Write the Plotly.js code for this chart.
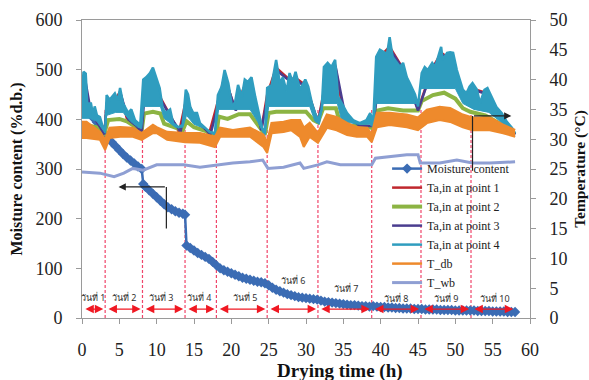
<!DOCTYPE html>
<html>
<head>
<meta charset="utf-8">
<script src="https://cdn.plot.ly/plotly-3.0.1.min.js"></script>
<style>html,body{margin:0;padding:0;background:#fff}#chart{width:589px;height:380px}</style>
</head>
<body>
<div id="chart"></div>
<script>
// ---------- data ----------
const xTicks = [0,5,10,15,20,25,30,35,40,45,50,55,60];
const yTicks = [0,100,200,300,400,500,600];
const y2Ticks = [0,5,10,15,20,25,30,35,40,45,50];

// Moisture content (%d.b.)
const mcTime = [0,0.5,1,1.5,2,2.5,3,3.5,4,4.5,5,5.5,6,6.5,7,7.5,8,8.2,8.5,9,9.5,10,10.5,11,11.5,12,12.5,13,13.5,13.8,14,14.5,15,15.5,16,16.5,17,17.5,18,18.5,19,19.5,20,20.5,21,21.5,22,22.5,23,23.5,24,24.5,25,25.5,26,26.5,27,27.5,28,28.5,29,29.5,30,30.5,31,31.5,32,32.5,33,33.5,34,34.5,35,35.5,36,36.5,37,37.5,38,38.5,39,39.5,40,40.5,41,41.5,42,42.5,43,43.5,44,44.5,45,45.5,46,46.5,47,47.5,48,48.5,49,49.5,50,50.5,51,51.5,52,52.5,53,53.5,54,54.5,55,55.5,56,56.5,57,57.5,58];
const mcValue = [440,425,413,403,394,383,372,363,354,346,338,330,323,317,311,305,300,270,264,257,250,243,236,229,223,219,215,212,210,208,146,141,136,131,127,123,119,113,106,100,96,93,90,87,84,81,79,77,75,73,72,70,66,61,57,54,51,48,46,44,42,41,40,39,38,37,35,33,32,31,30,29,28,27,26,26,25,24,24,23,24,23,22,22,21,21,20,20,19,19,19,18,18,18,17,17,17,17,16,16,16,16,15,15,15,15,15,15,14,14,14,14,13,13,13,13,12,12,12];

// Ta,in at point 4 (upper edge of the band)
const ta4Time = [0,0.2,0.5,0.7,1.2,1.5,1.7,2.0,2.4,2.8,3.1,3.3,3.7,4.4,4.8,5.1,5.5,6.2,6.6,7.1,7.8,8.2,8.6,9.1,9.5,9.9,10.4,10.8,11.2,11.8,12.2,12.9,13.5,13.9,14.2,14.5,14.9,15.4,15.8,16.5,17.1,17.8,18.2,18.7,19.1,19.6,20.1,20.5,20.9,21.4,21.8,22.2,22.7,23.2,23.6,24.1,24.5,24.8,25.4,26.0,26.5,26.9,27.4,27.8,28.2,28.6,29.2,29.9,30.3,30.8,31.2,31.6,32.1,32.4,32.9,33.4,33.9,34.3,34.8,35.5,36.3,37.2,38.1,38.6,39.0,39.4,39.9,40.6,40.8,41.2,41.6,42.2,42.6,43.0,43.5,43.9,44.6,45.0,45.5,45.9,46.3,46.9,47.3,47.7,48.1,48.3,48.9,49.3,49.7,50.2,50.6,51.0,51.5,51.9,52.3,52.9,53.3,53.9,54.3,54.9,55.5,56.2,56.9,57.6,58.0];
const ta4Value = [37,41.3,41,36,36,34,35.5,34,33.7,32,31.5,37.4,36.6,37.7,36.5,38.6,36,34.4,35,33.2,32.4,40,40.4,41.1,42,40.4,38.6,35.2,34.4,35,32.7,32,32.4,38.3,37.5,35.4,34.4,34.4,32.7,31.9,31.2,31,37.4,38.8,41.6,39.4,35.4,36.2,39.1,37.1,40,39.6,40.4,37.1,35,32,31,38.6,39.1,43.3,39.4,40.4,38,41.1,39.6,41.3,38.3,40,38.8,36,34.4,33.2,35,42.1,42.8,42.1,43.3,37.1,36,34.4,33.2,32.7,33.2,34.4,32.7,43.8,45,44.5,43.8,47.1,43.8,42.8,42.1,42.8,40.4,39.4,37.5,35.5,41.1,42.1,41.6,42.8,42.1,43.8,45.5,43.3,44.5,44.6,44.5,41.6,40,38.3,37.7,38.8,39.4,38.3,36,38.3,38.6,37.1,35.4,34.4,32.9,31.9,31];
// Ta,in at point 4 (lower edge of the band)
const ta4LowTime = [0,1.0,2.0,2.6,3.1,3.3,4.5,5.5,6.5,7.5,8.0,8.3,10.5,11.0,12.5,13.5,14.0,15.0,17.0,17.8,18.3,22.5,23.5,24.5,25.0,30.5,31.2,31.8,32.3,34.2,34.8,37.0,38.5,39.0,39.4,45.0,45.4,50.0,51.0,52.5,54.5,56.0,58.0];
const ta4LowValue = [33.5,33.5,33,32,31,34,34.5,34.5,33,32,31.8,35.5,35.5,33.5,32,32,34,32.5,31.5,30.5,35,35,33,30.5,35.5,35.5,33,32.5,36,36,33,32.5,32.5,32,36,36,38.5,38.5,36,35,34.5,33,30.5];

// Ta,in at point 1 / 2 / 3
const ta1Time = [0,0.3,1,2,3,3.3,4.4,5.1,6,7,8,8.3,9.5,10.5,11.8,13,14,15,17,18.2,19.1,20.5,21.8,22.7,24,24.8,26,27.8,28.6,30,31.6,32.9,33.9,35,37,39,40,41.2,43,45,46.9,48.1,49.3,51,52.3,54.3,56,58];
const ta1Value = [35.5,40.8,34.5,33,30.8,36,36.5,38,33.5,32.5,31.2,38.5,40.5,37,34,31.2,37,33.5,30.8,36.5,40.5,35,39,39.5,31.5,37.5,42,40,40.3,39,32.8,41.5,42.3,34.5,32.2,32.2,44,45.5,41.8,35,41.8,44.5,43.5,37.5,38.5,37.7,34,30.8];
const ta2Time = [0,1,2,3,3.5,5,6,7,8,8.3,9.5,10.5,11,13.5,14,15,17,18,18.3,19.5,21,22.5,23.5,24.5,25,26,28,30,31,31.6,32.3,34,34.5,36,38,39,39.5,41,43,45,45.5,47,48.5,50,51,52,54,56,58];
const ta2Value = [32.5,32.3,32,31,33.2,33.4,33,32.2,31.5,34.3,34.6,34.3,32.6,31.5,33,32,31.2,30.6,33.8,33.4,34.2,34.2,32.6,30.8,34.4,34.6,34.6,34.6,33.2,32.8,35.2,35.2,33,32.2,32.2,31.8,34.8,35.2,34.8,34.8,36.4,37.4,37.8,36.8,35.2,34.6,34,32.6,30.8];
const ta3Time = [0,0.4,1.2,2.2,3,3.3,4.5,5.2,6.2,7.2,8,8.4,9.6,10.6,12,13.2,14,15.2,17.2,18.3,19.2,20.6,21.9,22.8,24,24.9,26.1,27.9,28.7,30.1,31.6,33,34,35.2,37.2,39,40.1,41.3,43.1,45,47,48.2,49.4,51,52.4,54.4,56.1,58];
const ta3Value = [35,40.2,34.5,32.5,30.8,35.5,36.3,37.5,33.3,32.3,31.2,38,40,36.5,33.5,31.2,36.5,33.3,30.8,36,40,34.8,38.5,39,31.5,37.2,41.5,39.7,40,38.5,32.8,41,42,34.3,32.2,32.2,43.5,45,41.5,34.8,42,44.2,43.3,37.3,38.3,37.5,33.8,30.8];

// T_db (upper and lower edge of the band)
const tdbTime = [0,0.6,2.4,3.1,3.7,5.1,6.8,8.0,9.5,10.0,11.4,13.8,15.8,17.8,18.5,20.2,22.5,24.3,24.8,25.4,27,28,29.2,29.7,30.5,31.6,32.8,34.1,35.5,36.8,38.2,38.8,39.5,41.2,43.5,45,46.2,47.9,49.3,51,52.3,54.6,56.4,58];
const tdbUpper = [32.9,32.9,31.2,29.9,31.9,32,31.9,31,32.4,32,31.2,31,31,30.4,31.9,31.5,31.9,30.7,29.4,32.7,32.9,33.2,33.2,31.9,32.7,31,34.1,33.7,32.7,32,31.9,30.7,34.4,34.4,34.1,33.6,34.9,35.4,35.2,34.1,33.6,33.6,32.4,31.5];
const tdbLower = [30.2,30.2,29.9,28.2,30.2,30.4,30.4,29.9,31,31,29.9,29.5,29.4,28.7,30.4,30.4,30.4,28.7,27.7,31,31.2,31.5,30.4,28.7,30.4,29.4,31.9,31.5,30.7,30.4,30.4,29.5,32,32.4,32,31.5,32.7,33.2,32.9,32,31.5,31.5,31,30.4];

// T_wb
const twbTime = [0,2.4,4.3,5.6,6.8,8.2,10,13.6,15.8,18,20.2,22.5,24.2,24.9,27,29.2,29.7,31.6,32.8,34.6,36.8,38.8,39.3,41.2,43.5,45,45.3,47.9,50.2,52.3,54.6,58];
const twbValue = [24.5,24.3,23.7,24.3,25.1,24.8,25.7,25.7,25.3,25.7,26,26.2,26.5,25.1,25.3,26,25.1,25.7,26.2,25.7,25.7,25.7,26.8,27.1,27.4,27.4,26,26,26.5,26,26,26.2];

// Day annotations
const dayBounds = [0,3.1,8.1,13.8,18,24.8,31.6,38.8,45.4,52.1,58];
const dayLabels = ['วันที่ 1','วันที่ 2','วันที่ 3','วันที่ 4','วันที่ 5','วันที่ 6','วันที่ 7','วันที่ 8','วันที่ 9','วันที่ 10'];
const dayLabelX = [1.6,5.7,10.6,15.7,21.9,28.3,35.4,42.1,48.8,55.3];
const dayLabelY = [42,42,42,42,42,76,60,40,40,40];
const dayArrowY = 18;
const dayLineTop = 420;
// Pointer arrows
const mcPointer = {x: 11.3, yLow: 180, yHigh: 264, head: 4.9};
const tPointer = {x: 52.3, yLow: 24.7, yHigh: 33.9, head: 57.5};

// ---------- chart ----------
const serif = 'Liberation Serif, Times New Roman, serif';
const C = {mc:'#3b6cb4', t1:'#c0272d', t2:'#8cb443', t3:'#4a3d8f', t4:'#2f9dbf', db:'#ee8a2c', wb:'#8f9fd3'};

const traces = [
  {x: mcTime, y: mcValue, name: 'Moisture content', type: 'scatter', mode: 'lines+markers',
   line: {color: C.mc, width: 2.5}, marker: {symbol: 'diamond', size: 8, color: C.mc}, yaxis: 'y'},
  {x: ta1Time, y: ta1Value, name: 'Ta,in at point 1', mode: 'lines', line: {color: C.t1, width: 2.5}, yaxis: 'y2'},
  {x: ta2Time, y: ta2Value, name: 'Ta,in at point 2', mode: 'lines', line: {color: C.t2, width: 4}, yaxis: 'y2'},
  {x: ta3Time, y: ta3Value, name: 'Ta,in at point 3', mode: 'lines', line: {color: C.t3, width: 2.5}, yaxis: 'y2'},
  {x: ta4Time, y: ta4Value, name: 'Ta,in at point 4', mode: 'lines', line: {color: C.t4, width: 2.5}, yaxis: 'y2'},
  {x: ta4LowTime, y: ta4LowValue, name: 'Ta,in at point 4 band', showlegend: false, mode: 'lines',
   line: {color: C.t4, width: 1}, fill: 'tonexty', fillcolor: C.t4, yaxis: 'y2', hoverinfo: 'skip'},
  {x: tdbTime, y: tdbUpper, name: 'T_db', mode: 'lines', line: {color: C.db, width: 2.5}, yaxis: 'y2'},
  {x: tdbTime, y: tdbLower, name: 'T_db band', showlegend: false, mode: 'lines',
   line: {color: C.db, width: 2}, fill: 'tonexty', fillcolor: C.db, yaxis: 'y2', hoverinfo: 'skip'},
  {x: twbTime, y: twbValue, name: 'T_wb', mode: 'lines', line: {color: C.wb, width: 3}, yaxis: 'y2'}
];

const shapes = [];
for (let i = 1; i < dayBounds.length - 1; i++) {
  shapes.push({type: 'line', xref: 'x', yref: 'y', x0: dayBounds[i], x1: dayBounds[i], y0: 0, y1: dayLineTop,
    line: {color: '#f0456a', width: 1.2, dash: '3px,2px'}, layer: 'below'});
}
shapes.push({type: 'line', xref: 'x', yref: 'y', x0: mcPointer.x, x1: mcPointer.x, y0: mcPointer.yLow, y1: mcPointer.yHigh,
  line: {color: '#222', width: 1.2}});
shapes.push({type: 'line', xref: 'x', yref: 'y2', x0: tPointer.x, x1: tPointer.x, y0: tPointer.yLow, y1: tPointer.yHigh,
  line: {color: '#222', width: 1.2}});

const annotations = [];
for (let i = 0; i < dayLabels.length; i++) {
  annotations.push({xref: 'x', yref: 'y', x: dayLabelX[i], y: dayLabelY[i], text: dayLabels[i], showarrow: false,
    font: {family: 'Noto Sans, DejaVu Sans, sans-serif', size: 9, color: '#333'}});
  annotations.push({xref: 'x', yref: 'y', axref: 'x', ayref: 'y', x: dayBounds[i+1] - 0.25, y: dayArrowY,
    ax: dayBounds[i] + 0.25, ay: dayArrowY, text: '', showarrow: true, arrowside: 'end+start',
    arrowhead: 2, arrowsize: 1.3, arrowwidth: 1.3, arrowcolor: '#f01822', standoff: 0, startstandoff: 0});
}
annotations.push({xref: 'x', yref: 'y', axref: 'x', ayref: 'y', x: mcPointer.head, y: mcPointer.yHigh,
  ax: mcPointer.x, ay: mcPointer.yHigh, text: '', showarrow: true, arrowhead: 2, arrowsize: 1.2, arrowwidth: 1.2, arrowcolor: '#222'});
annotations.push({xref: 'x', yref: 'y2', axref: 'x', ayref: 'y2', x: tPointer.head, y: tPointer.yHigh,
  ax: tPointer.x, ay: tPointer.yHigh, text: '', showarrow: true, arrowhead: 2, arrowsize: 1.2, arrowwidth: 1.2, arrowcolor: '#222'});
annotations.push({xref: 'paper', yref: 'paper', x: 0.576, y: -0.135, yanchor: 'top', xanchor: 'center', showarrow: false,
  text: '<b>Drying time (h)</b>', font: {family: serif, size: 19, color: '#111'}});

const axisCommon = {showgrid: false, zeroline: false, showline: true, linecolor: '#9a9a9a', linewidth: 1,
  ticks: 'outside', ticklen: 5, tickcolor: '#9a9a9a', tickfont: {family: serif, size: 18, color: '#222'}};

const layout = {
  width: 589, height: 380,
  margin: {l: 82, r: 59, t: 20, b: 62},
  paper_bgcolor: '#fff', plot_bgcolor: '#fff',
  showlegend: true,
  legend: {x: 0.681, y: 0.55, xanchor: 'left', yanchor: 'top', bgcolor: 'rgba(0,0,0,0)', traceorder: 'normal',
    font: {family: serif, size: 12, color: '#222'}, tracegroupgap: 0},
  xaxis: Object.assign({}, axisCommon, {range: [0, 60], tickvals: xTicks, mirror: true, ticklabelstandoff: 10}),
  yaxis: Object.assign({}, axisCommon, {range: [0, 600], tickvals: yTicks, ticklabelstandoff: 10,
    title: {text: '<b>Moisture content (%d.b.)</b>', font: {family: serif, size: 16, color: '#111'}, standoff: 8}}),
  yaxis2: Object.assign({}, axisCommon, {range: [0, 50], tickvals: y2Ticks, overlaying: 'y', side: 'right', ticklabelstandoff: 10,
    title: {text: '<b>Temperature (°C)</b>', font: {family: serif, size: 15.5, color: '#111'}, standoff: 8}}),
  shapes: shapes,
  annotations: annotations
};

Plotly.newPlot('chart', traces, layout, {displayModeBar: false, staticPlot: true});
</script>
</body>
</html>
